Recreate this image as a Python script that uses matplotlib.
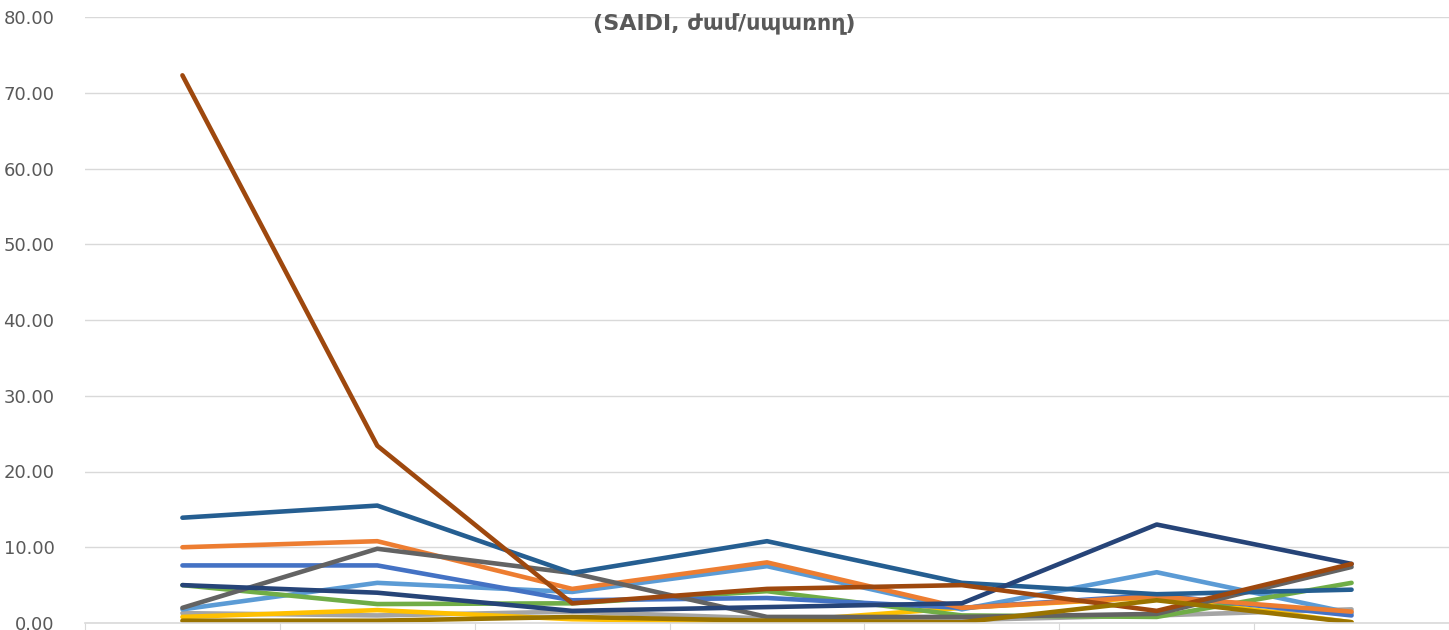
import matplotlib.pyplot as plt
import numpy as np

categories = ['1', '2', '3', '4', '5', '6', '7']
s1 = [13.9, 15.5, 6.6, 10.8, 5.3, 3.8, 4.4]
s2 = [10.0, 10.8, 4.5, 8.0, 2.0, 3.5, 1.5]
s3 = [7.6, 7.6, 3.0, 3.3, 2.0, 3.7, 1.0]
s4 = [2.0, 9.8, 6.6, 0.8, 0.8, 1.2, 7.4]
s5 = [1.8, 5.3, 4.1, 7.5, 1.8, 6.7, 1.3]
s6 = [5.0, 2.5, 2.6, 4.2, 1.0, 0.8, 5.3]
s7 = [5.0, 4.0, 1.6, 2.1, 2.6, 13.0, 7.8]
s8 = [72.3, 23.4, 2.6, 4.5, 5.0, 1.6, 7.8]
s9 = [1.3, 1.0, 1.5, 0.6, 0.4, 1.0, 1.8]
s10 = [0.8, 1.7, 0.5, 0.1, 2.0, 3.4, 0.1]
s11 = [0.3, 0.3, 0.8, 0.3, 0.1, 3.0, 0.1]

series = [
    (s9, '#A5A5A5'), (s10, '#FFC000'), (s5, '#5B9BD5'), (s6, '#70AD47'),
    (s3, '#4472C4'), (s2, '#ED7D31'), (s4, '#636363'), (s1, '#255E91'),
    (s7, '#264478'), (s8, '#9E480E'), (s11, '#997300'),
]

fig = plt.figure(figsize=(14.49, 6.3), dpi=100)
ax = fig.add_axes([85 / 1449, 7 / 630, 1 - 85 / 1449, 606 / 630])
x = np.arange(len(categories))
for vals, col in series:
    ax.plot(x, vals, color=col, linewidth=3.3, solid_capstyle='round', solid_joinstyle='round')

ax.set_xlim(-0.5, len(categories) - 0.5)
ax.set_ylim(0, 80)
ax.set_yticks(np.arange(0, 81, 10))
ax.set_yticklabels([f'{v:.2f}' for v in range(0, 81, 10)], fontsize=13, color='#595959')
ax.yaxis.grid(True, color='#D9D9D9', linewidth=1)
ax.set_axisbelow(True)
ax.tick_params(axis='y', length=0, pad=22)
ax.set_xticks(np.arange(-0.5, len(categories), 1))
ax.set_xticklabels([])
ax.tick_params(axis='x', length=6, color='#D9D9D9', direction='out')
for sp in ['top', 'right', 'left']:
    ax.spines[sp].set_visible(False)
ax.spines['bottom'].set_color('#D9D9D9')
ax.spines['bottom'].set_linewidth(1.2)

fig.text(0.5, 1 - 24 / 630, '(SAIDI, ժամ/սպառող)', ha='center', va='center',
         fontsize=16, fontweight='bold', color='#595959')
fig.savefig('out.png', dpi=100)
